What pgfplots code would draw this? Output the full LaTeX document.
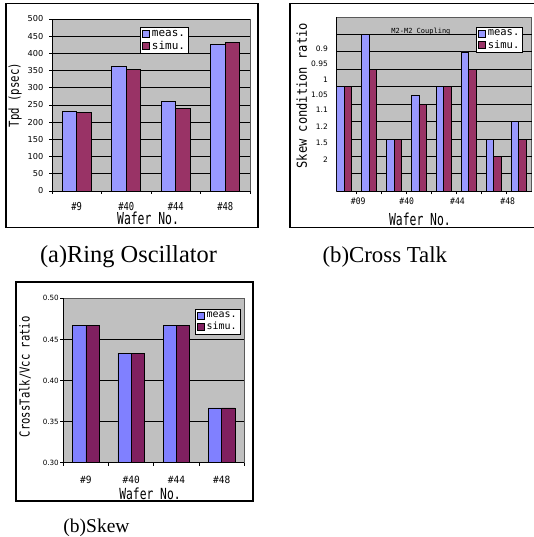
\documentclass[border=0pt]{standalone}
\usepackage{graphicx}
\usepackage{fontspec}
\usepackage{pgfplots}
\pgfplotsset{compat=1.18}
\setmainfont{Liberation Serif}
\newfontfamily\gmono{DejaVu Sans Mono}
\newfontfamily\gsans{DejaVu Sans}
\newcommand\nar[3]{{\fontsize{#2}{#2}\gmono\scalebox{#1}[1]{#3}}}
\definecolor{cmeas}{HTML}{9999FF}
\definecolor{csimu}{HTML}{993366}
\definecolor{cmeasc}{HTML}{8080FF}
\definecolor{csimuc}{HTML}{802060}
\definecolor{bggray}{HTML}{C0C0C0}
\pgfplotsset{
  panel/.style={
    scale only axis, enlargelimits=false,
    axis background/.style={fill=bggray, draw=gray!70!black, line width=0.5pt},
    axis x line*=bottom, axis y line*=left,
    axis line style={-, black, line width=0.9pt},
    ybar=0pt,
    minor grid style={black, line width=0.8pt},
    major grid style={black, line width=0.8pt},
    tick style={black, line width=0.8pt},
    legend style={draw=black, line width=0.9pt, fill=white, inner xsep=1.5pt, inner ysep=0.5pt, anchor=north east, cells={anchor=west}, row sep=-1pt},
  },
  sw/.style={legend image code/.code={\draw[##1, draw=black, line width=0.6pt] (0pt,-3.5pt) rectangle (7pt,3.5pt);}},
}
\begin{document}
\begin{tikzpicture}
\useasboundingbox (0pt,0pt) rectangle (533pt,537pt);
\fill[white] (0pt,0pt) rectangle (533pt,537pt);
\draw[line width=1.4pt] (6pt,309.3pt) rectangle (258pt,533.7pt);
\draw[line width=1.4pt] (290pt,309.7pt) rectangle (545pt,533.7pt);
\draw[line width=1.4pt] (16pt,36pt) rectangle (253pt,255pt);

% ---------- (a) Ring Oscillator ----------
\begin{axis}[panel,
  at={(52pt,346pt)}, anchor=south west, width=198pt, height=172pt,
  xmin=-0.5, xmax=3.5, ymin=0, ymax=500,
  bar width=14.5pt,
  ytick={0,50,100,150,200,250,300,350,400,450,500},
  yticklabels={0,50,100,150,200,250,300,350,400,450,500},
  ymajorgrids,
  major tick length=3pt,
  ytick style={xshift=-3pt},
  yticklabel style={font=\fontsize{8.2pt}{9pt}\gsans, anchor=east, inner sep=0pt, xshift=-8.5pt},
  xtick={-0.5,0.5,1.5,2.5,3.5}, xticklabels={{},{},{},{},{}},
  extra x ticks={0,1,2,3},
  extra x tick labels={\nar{0.8}{11pt}{\#9},\nar{0.8}{11pt}{\#40},\nar{0.8}{11pt}{\#44},\nar{0.8}{11pt}{\#48}},
  extra x tick style={major tick length=0pt, xticklabel style={anchor=center, inner sep=0pt, yshift=-15.7pt}},
  xlabel={\nar{0.69}{16.5pt}{Wafer No.}},
  xlabel style={at={(axis description cs:0.485,-0.159)}, anchor=center, inner sep=0pt},
  ylabel={\nar{0.78}{13.7pt}{Tpd (psec)}},
  ylabel style={at={(axis description cs:-0.187,0.558)}, anchor=center, inner sep=0pt},
  legend style={at={(rel axis cs:0.692,0.953)}, font=\fontsize{11pt}{12pt}\gmono},
]
\addplot[fill=cmeas, draw=black, line width=0.7pt, sw] coordinates {(0,231) (1,362) (2,260) (3,426)};
\addplot[fill=csimu, draw=black, line width=0.7pt, sw] coordinates {(0,228) (1,354) (2,240) (3,432)};
\addlegendentry{meas.}
\addlegendentry{simu.}
\end{axis}

% ---------- (b) Cross Talk ----------
\begin{axis}[panel,
  at={(336.7pt,345.7pt)}, anchor=south west, width=195pt, height=174.3pt,
  xmin=-0.306, xmax=7.535, ymin=0, ymax=10,
  bar width=7.5pt,
  ytick={1.84,2.79,3.71,4.70,5.52,6.39,7.34,8.16},
  yticklabels={2,1.5,1.2,1.1,1.05,1,0.95,0.9},
  ytick style={draw=none},
  minor ytick={1,2,3,4,5,6,7,8,9}, yminorgrids, minor tick length=0pt,
  major tick length=3pt,
  yticklabel style={font=\fontsize{7.5pt}{8pt}\gsans, anchor=east, inner sep=0pt, xshift=-8.7pt},
  xtick={0.5,1.5,2.5,3.5,4.5,5.5,6.5}, xticklabels={{},{},{},{},{},{},{}},
  extra x ticks={0.56,2.51,4.55,6.57},
  extra x tick labels={\nar{0.9}{9pt}{\#09},\nar{0.9}{9pt}{\#40},\nar{0.9}{9pt}{\#44},\nar{0.9}{9pt}{\#48}},
  extra x tick style={major tick length=0pt, xticklabel style={anchor=center, inner sep=0pt, yshift=-10.4pt}},
  xlabel={\nar{0.69}{16.5pt}{Wafer No.}},
  xlabel style={at={(axis description cs:0.427,-0.161)}, anchor=center, inner sep=0pt},
  ylabel={\nar{0.88}{13.7pt}{Skew condition ratio}},
  ylabel style={at={(axis description cs:-0.179,0.548)}, anchor=center, inner sep=0pt},
  legend style={at={(rel axis cs:0.957,0.944)}, font=\fontsize{10.5pt}{11.5pt}\gmono},
]
\addplot[fill=cmeas, draw=black, line width=0.7pt, sw] coordinates {(0,6) (1,9) (2,3) (3,5.5) (4,6) (5,8) (6,3) (7,4)};
\addplot[fill=csimu, draw=black, line width=0.7pt, sw] coordinates {(0,6) (1,7) (2,3) (3,5) (4,6) (5,7) (6,2) (7,3)};
\addlegendentry{meas.}
\addlegendentry{simu.}
\node[font=\fontsize{7pt}{8pt}\gmono] at (axis description cs:0.432,0.914) {M2-M2 Coupling};
\end{axis}

% ---------- (c) Skew ----------
\begin{axis}[panel,
  at={(63.3pt,74.3pt)}, anchor=south west, width=181pt, height=164.4pt,
  xmin=-0.5, xmax=3.5, ymin=0.3, ymax=0.5,
  bar width=13.3pt,
  ytick={0.30,0.35,0.40,0.45,0.50},
  yticklabels={0.30,0.35,0.40,0.45,0.50},
  minor ytick={0.35,0.40,0.45}, yminorgrids, minor tick length=0pt,
  major tick length=3pt,
  ytick style={xshift=-3pt},
  yticklabel style={font=\fontsize{7.2pt}{8pt}\gsans, anchor=east, inner sep=0pt, xshift=-4.3pt},
  xtick={-0.5,0.5,1.5,2.5,3.5}, xticklabels={{},{},{},{},{}},
  extra x ticks={0,1,2,3},
  extra x tick labels={\nar{0.95}{10pt}{\#9},\nar{0.95}{10pt}{\#40},\nar{0.95}{10pt}{\#44},\nar{0.95}{10pt}{\#48}},
  extra x tick style={major tick length=0pt, xticklabel style={anchor=center, inner sep=0pt, yshift=-17.5pt}},
  xlabel={\nar{0.74}{15.3pt}{Wafer No.}},
  xlabel style={at={(axis description cs:0.479,-0.190)}, anchor=center, inner sep=0pt},
  ylabel={\nar{0.77}{13.7pt}{CrossTalk/Vcc ratio}},
  ylabel style={at={(axis description cs:-0.212,0.523)}, anchor=center, inner sep=0pt},
  legend style={at={(rel axis cs:0.980,0.933)}, font=\fontsize{10pt}{11pt}\gmono},
]
\addplot[fill=cmeasc, draw=black, line width=0.7pt, sw] coordinates {(0,0.4667) (1,0.4333) (2,0.4667) (3,0.3667)};
\addplot[fill=csimuc, draw=black, line width=0.7pt, sw] coordinates {(0,0.4667) (1,0.4333) (2,0.4667) (3,0.3667)};
\addlegendentry{meas.}
\addlegendentry{simu.}
\end{axis}

\node[anchor=base, font=\fontsize{24.4pt}{26pt}\selectfont] at (128.5pt,274.7pt) {(a)Ring Oscillator};
\node[anchor=base, font=\fontsize{22.8pt}{24pt}\selectfont] at (384.8pt,274.7pt) {(b)Cross Talk};
\node[anchor=base, font=\fontsize{19.5pt}{21pt}\selectfont] at (96.5pt,5pt) {(b)Skew};
\end{tikzpicture}
\end{document}
